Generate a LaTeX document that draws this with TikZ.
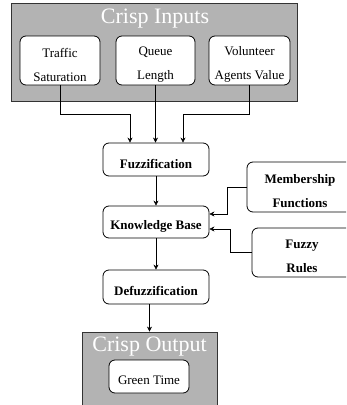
\documentclass[tikz,border=0pt]{standalone}
\usepackage{fontspec}
\setmainfont{Liberation Serif}
\usetikzlibrary{arrows.meta}
\definecolor{graybg}{HTML}{B3B3B3}
\begin{document}
\begin{tikzpicture}[x=1pt,y=-1pt,
 grp/.style={draw=black!80,fill=graybg,line width=0.8pt,inner sep=0},
 rbox/.style={draw=black,fill=white,rounded corners=6pt,line width=0.8pt,inner sep=0},
 txt/.style={inner sep=0,align=center,font=\fontsize{13}{24}\selectfont},
 btxt/.style={txt,font=\fontsize{13}{24}\selectfont\bfseries},
 ttl/.style={text=white,font=\fontsize{22}{24}\selectfont,inner sep=0},
 arr/.style={-{Stealth[length=5pt,width=5pt]},line width=0.6pt}]
\useasboundingbox (0,0) rectangle (346,405);
\clip (0,0) rectangle (346,405);
% input group
\node[grp,minimum width=286pt,minimum height=98pt] (inputs) at (154,52) {};
\node[ttl] (intitle) at (155,19) {Crisp Inputs};
\node[rbox,minimum width=80pt,minimum height=49pt] (traffic) at (60,60.5) {};
\node[rbox,minimum width=79pt,minimum height=49pt] (queue) at (155.5,60.5) {};
\node[rbox,minimum width=81pt,minimum height=49pt] (volunteer) at (249.5,60.5) {};
\node[txt] (trafficT) at ([yshift=-4pt]traffic.center) {Traffic\\Saturation};
\node[txt] (queueT) at ([yshift=-4pt]queue.center) {Queue\\Length};
\node[txt] (volunteerT) at ([yshift=-4pt]volunteer.center) {Volunteer\\Agents Value};
% process
\node[rbox,minimum width=106pt,minimum height=33pt] (fuzz) at (156,159.5) {};
\node[rbox,minimum width=106pt,minimum height=32pt] (kb) at (156,222) {};
\node[rbox,minimum width=106pt,minimum height=34pt] (defuzz) at (156,287) {};
\node[rbox,minimum width=106pt,minimum height=50pt] (memb) at (300,187) {};
\node[rbox,minimum width=100pt,minimum height=49pt] (rules) at (302,252.5) {};
\node[btxt] (fuzzT) at ([yshift=-4pt]fuzz.center) {Fuzzification};
\node[btxt] (kbT) at ([yshift=-4pt]kb.center) {Knowledge Base};
\node[btxt] (defuzzT) at ([yshift=-4pt]defuzz.center) {Defuzzification};
\node[btxt] (membT) at ([yshift=-4pt]memb.center) {Membership\\Functions};
\node[btxt] (rulesT) at ([yshift=-4pt]rules.center) {Fuzzy\\Rules};
% output group
\node[grp,minimum width=135pt,minimum height=80pt] (output) at (149.5,372) {};
\node[ttl] (outtitle) at (149.5,347) {Crisp Output};
\node[rbox,minimum width=80pt,minimum height=33pt] (green) at (149,376.5) {};
\node[txt] (greenT) at ([yshift=-3.5pt]green.center) {Green Time};
% connectors
\draw[arr] (traffic.south) -- ++(0,29) -| ([xshift=-26pt]fuzz.north);
\draw[arr] (queue.south) -- (queue.south |- fuzz.north);
\draw[arr] (volunteer.south) -- ++(0,29) -| ([xshift=27pt]fuzz.north);
\draw[arr] (fuzz.south) -- (kb.north);
\draw[arr] (kb.south) -- (defuzz.north);
\draw[arr] (output.north |- defuzz.south) -- (output.north);
\draw[arr] (memb.west) -- ++(-19,0) |- ([yshift=8pt]kb.east);
\draw[arr] (rules.west) -- ++(-21,0) |- ([yshift=-7pt]kb.east);
\end{tikzpicture}
\end{document}
